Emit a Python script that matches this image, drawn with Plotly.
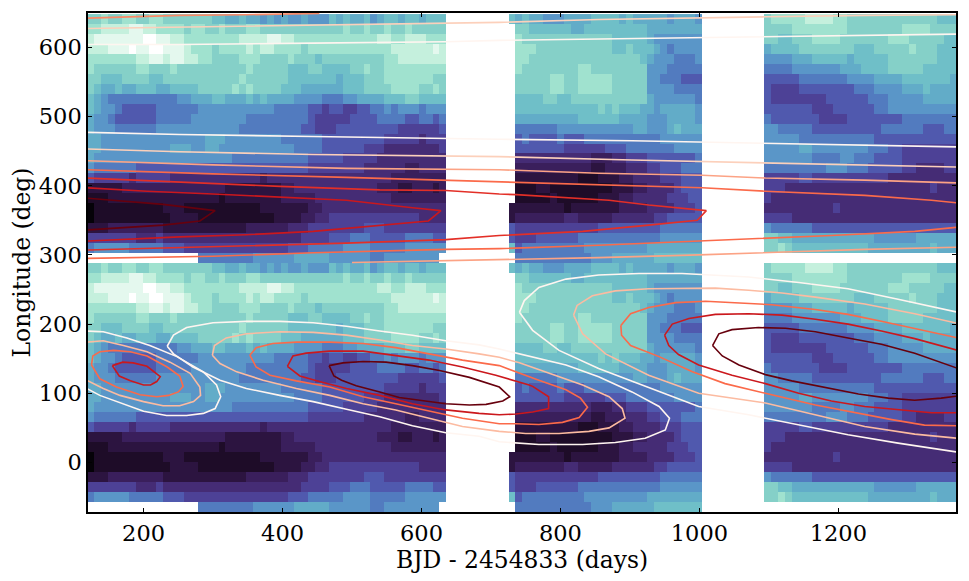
import plotly.graph_objects as go

# Brightness levels (hex digit per cell, 0 = darkest, F = white, . = no data); rows run top to bottom.
LEFT_BLOCK = [
"BBCBBCCBBC CBBBBBBBAA 99A9989898 89888A9A99 A89AA9AA9A AA",
"CCDDDDEEDD CCCCBCCBBC BBBCCBBBBB BBBBBBBCBB CBBCBBCBBB BB",
"DEEEEEEEFF EEDDCCCCCC CCDDDDEEDD CCCCCCCCCC CCDDCCDDDC CC",
"DDDEEEFEEF FEEEDCCCBC CCCDCDDCCC CBCCCCCCCC CCCCDDDDDD ED",
"CCCCCCCDDE EDEEDDCCBB BBCCCBBBBC BBBABBBBBB BBBCCDDDDD DD",
"CBBBBBBCCB BBCBBBBBBB BBBCBBBBBA AABBAAAABB CBBCCCCCCC CC",
"BBAAABBBBA ABBBBBBBBB BBCBBBBBBA AAAAAA9AAA BBBCCCCCCC BB",
"BA99A99AAA 99AAAABBBB BCBCBBBBAA A999999AAA BBBBCCCCBB CB",
"A987777777 77788999AA 999A9A9999 8888777889 999AAABBAA AA",
"A988766666 7777778888 8888888777 7766566556 6778788878 88",
"9887666666 7777788888 8887777777 7765555566 6677776677 67",
"9888777777 8888888888 8877777777 7665556666 6666655555 56",
"9988888888 8888888999 8888888877 7777666666 6665555545 55",
"9988888888 8899988998 8888888888 7777666666 5554444444 45",
"9888888888 8888888888 8777777777 7766666555 5544444444 44",
"8777777666 6666666666 6666666666 6655555555 4444443344 44",
"6555554555 5544444444 4444434444 4444444444 4444333333 33",
"2222233333 3333333333 2222222233 4444444444 4433322333 23",
"1112222222 2222222221 2222222233 3334444444 4444333333 33",
"0111111111 1222111111 1111122222 2233444444 4444444444 44",
"0111111111 1122221111 1111111222 2334455555 5555555544 44",
"2223333333 3222222222 2223333334 4455555555 6665555555 55",
"5555555444 5444444444 4444444444 4555566677 7666667777 66",
"7888887777 7666555555 5555555556 6677777888 8777778888 88",
".......... ......7777 7777888888 9999988888 8778888888 8.",
]
MID_BLOCK = [
"A9A9988899 99AAAA9A99 99989998",
".BBAAAAAA9 9AAAAAAAAA 99999999",
".CBBBBBBBB BBBBBAAAAA 98888888",
".CCCBBBBBB BBBBBAABAA A9878888",
".CCBBBBBBB BBBBBBBBBA 98887778",
".CBBBBBBBB CCBBBBBBBB 88877777",
".BBBBBCCBB CCCCCBBBBB 88777666",
".BBBBBCCBB CCCCCBBBBB 88887777",
".AAAABBAAB BBBBBBBBBB 98888887",
".AAAAAAAAA AAABABAAA9 98999998",
".999999999 AAAAAA9999 88899998",
".777777888 8888888899 8889A999",
".676666766 6777777777 77888888",
".666666655 5555666777 77778888",
".444444444 4433344555 66666667",
".333333333 3322333444 55666777",
".222222222 1112223344 44555666",
".111221111 1111122233 44445666",
".111112111 1112223344 44455566",
"2222222212 2222223333 44445556",
"2333333344 3333344444 45566666",
"6555555555 5556666666 66777777",
"6555666666 7777777777 77888888",
"A677777777 7888888888 99999999",
".777777777 7788899999 9AAAAAAA",
]
RIGHT_BLOCK = [
"BCCCCCDDDD CCBBBBBBBB BBBBBAAA",
"BBBBCCCCCC CCBBBBBBBB CCCCBBBB",
"BBAABBBCCC CBBBBBBBCC CBBBBBAA",
"9AAAABBBBB BBBAAABBBB BCBBBAAA",
"8888999AAA AA9AAAAABB BBBBBAAA",
"7777888888 8999AAAABB BBBAAAAA",
"6666677777 7788889999 AAAAAAA9",
"6555566666 6667778888 999A9999",
"6555555556 6666677788 88899999",
"6666666555 6666667788 88888888",
"7666666655 5566666666 77777777",
"8877777666 6666666777 77766677",
"8888877777 7777776666 66666666",
"8888899888 8888877766 55555555",
"8888888777 7887776666 55555555",
"7777777778 8877766666 55444455",
"5555566555 5555555544 44444444",
"5554444444 4444444444 44445444",
"5444444444 4444444444 44444444",
"4444444444 5444444444 44444444",
"5555444444 4444444444 44444444",
"8777777666 6666666666 66666666",
"BBAA999999 9999998888 88999999",
"BBCBAAAAAA AAAAA99999 9999A999",
".......... .......... ........",
]
GAP_COLUMNS = 9
COLUMN_START = 119.0
COLUMN_WIDTH = 9.94
ROW_START = -72.0
ROW_HEIGHT = 14.4
LEVEL_COLORS = ["#050208", "#1e0c28", "#2c1440", "#3a1f5c", "#452c75", "#4d4196", "#5059ae", "#527bbf",
                "#5a96c8", "#62acc8", "#6fbfc8", "#85d0c8", "#a0e2cf", "#c5f0dd", "#e4f8ee", "#ffffff"]

# Contours: x in days, y in degrees
A1_X = [155,170,185,205,224,219,210,200,181,165,155]
A1_Y = [140,145,144,139,124,117,112,112,118,125,140]
A2_X = [125,127,137,157,181,205,234,252,257,250,236,219,195,161,137,125]
A2_Y = [141,154,160,162,160,154,138,125,110,102,97,95,98,109,121,141]
A3_X = [118,142,171,205,238,267,281,282,272,252,228,200,166,142,118]
A3_Y = [174,176,169,160,145,129,109,97,88,82,82,88,97,107,119]
A4_X = [118,142,176,209,248,286,305,311,303,286,262,233,200,161,137,118]
A4_Y = [190,189,180,169,153,131,112,95,78,71,68,68,74,88,97,107]
B1_X = [467,487,516,549,587,626,669,712,727,717,693,669,635,602,568,540,506,485,474,467]
B1_Y = [140,144,146,145,140,133,123,109,95,89,84,83,85,89,94,102,111,119,125,140]
B2_X = [407,415,434,468,516,563,611,659,707,755,760,783,783,760,736,712,683,635,587,540,492,453,425,407]
B2_Y = [139,154,158,161,161,155,148,138,126,112,110,95,78,73,70,69,71,76,85,97,107,117,125,139]
B3_X = [353,362,386,420,468,516,563,611,659,712,741,769,808,829,839,827,803,769,736,712,659,611,563,516,468,420,382,362,353]
B3_Y = [155,166,172,174,174,172,166,157,148,140,129,119,105,93,80,65,58,55,56,56,64,74,85,95,109,118,126,138,155]
B4_X = [299,302,319,348,396,444,492,540,587,635,683,712,741,784,832,870,889,893,870,841,798,750,712,659,611,563,516,468,420,372,334,310,299]
B4_Y = [155,169,180,186,189,188,184,177,169,164,157,152,144,129,112,95,78,64,50,45,42,42,45,52,64,76,85,97,107,119,131,143,155]
B5_X = [234,243,262,300,348,396,444,492,540,587,635,683,712,755,808,855,903,942,957,951,922,879,832,769,712,683,635,587,540,492,444,396,348,310,271,243,234]
B5_Y = [168,184,195,202,204,204,202,197,190,184,176,170,164,154,141,124,102,81,64,47,35,29,26,26,30,38,43,53,66,77,88,97,107,119,138,157,168]
C1_X = [1019,1028,1047,1085,1124,1167,1214,1262,1310,1348,1372,1372,1348,1310,1272,1229,1181,1133,1095,1057,1033,1019]
C1_Y = [169,186,192,195,194,189,180,171,158,145,136,96,93,90,93,99,108,118,127,141,154,169]
C2_X = [950,961,985,1023,1071,1119,1167,1214,1262,1310,1372,1372,1334,1286,1238,1190,1143,1095,1047,999,970,956,950]
C2_Y = [184,200,208,214,215,213,207,200,190,179,162,72,72,76,81,89,100,114,126,141,156,169,184]
C3_X = [887,901,927,966,1009,1057,1104,1167,1214,1262,1324,1372,1372,1324,1277,1214,1167,1095,1037,990,942,901,888,887]
C3_Y = [198,215,224,231,233,231,228,221,214,204,191,180,53,54,62,74,83,100,114,131,153,169,184,198]
C4_X = [819,824,846,879,927,975,1023,1071,1119,1167,1238,1310,1372,1372,1310,1238,1167,1095,999,927,865,832,819]
C4_Y = [213,227,241,248,251,252,252,249,245,239,229,215,201,35,41,52,69,86,100,126,157,186,213]
C5_X = [741,748,769,808,855,913,975,1023,1071,1143,1214,1286,1372,1372,1286,1214,1143,1071,999,927,855,798,760,741]
C5_Y = [217,234,253,265,271,273,273,271,268,260,251,236,217,15,28,40,54,69,81,109,136,162,191,217]
U1_X = [118,181,228,303,281,228,157,118]
U1_Y = [382,377,373,364,349,343,339,336]
U2_X = [118,205,300,396,492,587,628,610,540,444,348,252,118]
U2_Y = [397,392,388,383,379,368,364,349,343,334,329,326,320]
U3_X = [118,252,396,540,635,712,736,870,927,1010,997,927,832,712,635,492,348,118]
U3_Y = [411,405,399,394,393,388,387,379,372,364,350,343,334,328,322,317,313,307]
U4_X = [118,300,492,635,712,903,1004,1095,1238,1334,1372,1372,1310,1190,1095,999,855,712,635,444,300,118]
U4_Y = [423,417,412,408,406,400,397,392,386,379,375,340,334,328,324,320,314,309,308,303,298,295]
U5_X = [118,300,492,635,712,855,1004,1095,1238,1372,1372,1238,1095,999,855,712,635,500]
U5_Y = [436,430,425,423,423,418,415,411,408,404,311,308,303,300,296,293,291,289]
U6_X = [118,252,444,635,712,903,1004,1095,1238,1372]
U6_Y = [453,449,445,443,442,437,435,433,430,427]
U7_X = [118,252,444,635,712,903,1004,1095,1238,1372]
U7_Y = [477,474,471,468,467,465,463,461,459,456]
T1_X = [118,252,348,453]
T1_Y = [642,646,647,649]
T2_X = [118,252,444,635,712,855,1004,1095,1238,1372]
T2_Y = [627,629,632,635,636,640,643,644,646,647]
T3_X = [118,252,444,635,712,855,1004,1095,1238,1372]
T3_Y = [604,604,606,608,610,612,614,615,618,619]

WHITE, PEACH, ORANGE, RED, DARK = "#fff5f0", "#fcbba1", "#fb6a4a", "#cb181d", "#67000d"
SOFT_PEACH, SOFT_ORANGE, BRIGHT_RED = "#fcd0bb", "#fca385", "#e32f27"
CONTOURS = [
    (A4_X, A4_Y, WHITE), (A3_X, A3_Y, PEACH), (A2_X, A2_Y, ORANGE), (A1_X, A1_Y, RED),
    (B5_X, B5_Y, WHITE), (B4_X, B4_Y, PEACH), (B3_X, B3_Y, ORANGE), (B2_X, B2_Y, RED), (B1_X, B1_Y, DARK),
    (C5_X, C5_Y, WHITE), (C4_X, C4_Y, PEACH), (C3_X, C3_Y, ORANGE), (C2_X, C2_Y, RED), (C1_X, C1_Y, DARK),
    (U7_X, U7_Y, WHITE), (U6_X, U6_Y, SOFT_PEACH), (U5_X, U5_Y, SOFT_ORANGE), (U4_X, U4_Y, ORANGE),
    (U3_X, U3_Y, BRIGHT_RED), (U2_X, U2_Y, RED), (U1_X, U1_Y, DARK),
    (T1_X, T1_Y, "#fb8a68"), (T2_X, T2_Y, SOFT_PEACH), (T3_X, T3_Y, WHITE),
]


def decode(text):
    return [None if c == "." else int(c, 16) for c in text.replace(" ", "")]


period = []
for left, mid, right in zip(LEFT_BLOCK, MID_BLOCK, RIGHT_BLOCK):
    period.append(decode(left) + [None] * GAP_COLUMNS + decode(mid) + [None] * GAP_COLUMNS + decode(right))
period.reverse()  # bottom row first
z = period + period  # the map repeats every 360 degrees
ncols = len(z[0])
x_edges = [COLUMN_START + COLUMN_WIDTH * i for i in range(ncols + 1)]
y_edges = [ROW_START + ROW_HEIGHT * i for i in range(len(z) + 1)]
scale = [[i / 15, c] for i, c in enumerate(LEVEL_COLORS)]

fig = go.Figure()
fig.add_trace(go.Heatmap(x=x_edges, y=y_edges, z=z, zmin=0, zmax=15, colorscale=scale,
                         showscale=False, hoverongaps=False))
for xs, ys, color in CONTOURS:
    fig.add_trace(go.Scatter(x=xs, y=ys, mode="lines", showlegend=False,
                             line=dict(color=color, width=1.6)))

axis = dict(showgrid=False, zeroline=False, showline=True, linecolor="black", linewidth=1.5,
            mirror="allticks", ticks="inside", ticklen=4, tickwidth=1, tickcolor="black",
            tickfont=dict(family="DejaVu Serif", size=22.5, color="black"))
fig.update_layout(
    width=969, height=581, autosize=False, plot_bgcolor="white", paper_bgcolor="white",
    margin=dict(l=88, r=11, t=11, b=69), showlegend=False,
    font=dict(family="DejaVu Serif", color="black"),
    xaxis=dict(axis, range=[120, 1369.4], tickvals=[200, 400, 600, 800, 1000, 1200],
               title=dict(text="BJD - 2454833 (days)", font=dict(family="DejaVu Serif", size=23.4), standoff=2)),
    yaxis=dict(axis, range=[-71.5, 649.5], tickvals=[0, 100, 200, 300, 400, 500, 600],
               title=dict(text="Longitude (deg)", font=dict(family="DejaVu Serif", size=23.4), standoff=2)),
)
fig.write_html("out.html", config={"displayModeBar": False}, post_script="document.body.style.margin='0';")
